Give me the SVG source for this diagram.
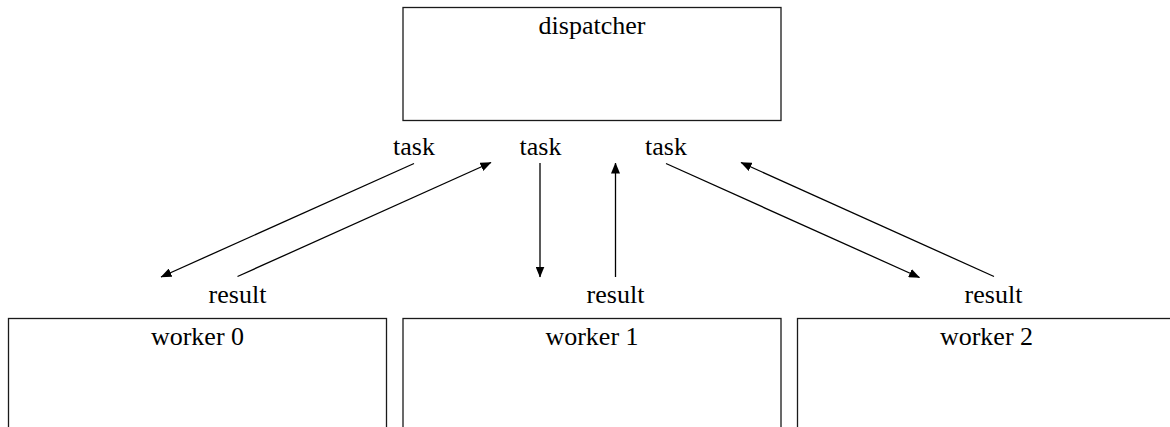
<svg xmlns="http://www.w3.org/2000/svg" width="1170" height="427" viewBox="0 0 1170 427">
  <style>
    .box { fill: #ffffff; stroke: #1a1a1a; stroke-width: 1.3; }
    .label { font-family: "Liberation Serif", "Times New Roman", serif; font-size: 26px; fill: #000; text-anchor: middle; }
    .edge { stroke: #000; stroke-width: 1.3; fill: none; marker-end: url(#arrow); }
  </style>
  <defs>
    <marker id="arrow" markerUnits="userSpaceOnUse" markerWidth="11" markerHeight="9" refX="10.5" refY="4.5" orient="auto">
      <path d="M0,0 L11,4.5 L0,9 z" fill="#000"/>
    </marker>
  </defs>
  <rect width="1170" height="427" fill="#ffffff"/>

  <g id="dispatcher">
    <rect class="box" x="403" y="7.5" width="378" height="113"/>
    <text class="label" x="592" y="34">dispatcher</text>
  </g>

  <g id="worker0">
    <rect class="box" x="8.5" y="318.5" width="378" height="113"/>
    <text class="label" x="197.5" y="345">worker 0</text>
  </g>

  <g id="worker1">
    <rect class="box" x="403" y="318.5" width="378" height="113"/>
    <text class="label" x="592" y="345">worker 1</text>
  </g>

  <g id="worker2">
    <rect class="box" x="797.5" y="318.5" width="378" height="113"/>
    <text class="label" x="986.5" y="345">worker 2</text>
  </g>

  <g id="connectors">
    <!-- dispatcher -> worker 0 -->
    <line class="edge" x1="414" y1="163.5" x2="161" y2="277"/>
    <text class="label" x="414" y="155">task</text>
    <!-- worker 0 -> dispatcher -->
    <line class="edge" x1="237.5" y1="276.5" x2="491" y2="162.5"/>
    <text class="label" x="237.5" y="303">result</text>
    <!-- dispatcher -> worker 1 -->
    <line class="edge" x1="540" y1="163" x2="540" y2="277"/>
    <text class="label" x="540.5" y="155">task</text>
    <!-- worker 1 -> dispatcher -->
    <line class="edge" x1="615.5" y1="277" x2="615.5" y2="163"/>
    <text class="label" x="615.5" y="303">result</text>
    <!-- dispatcher -> worker 2 -->
    <line class="edge" x1="666" y1="163.5" x2="919.5" y2="277.5"/>
    <text class="label" x="666" y="155">task</text>
    <!-- worker 2 -> dispatcher -->
    <line class="edge" x1="994" y1="276.5" x2="741" y2="162.5"/>
    <text class="label" x="993.5" y="303">result</text>
  </g>
</svg>
